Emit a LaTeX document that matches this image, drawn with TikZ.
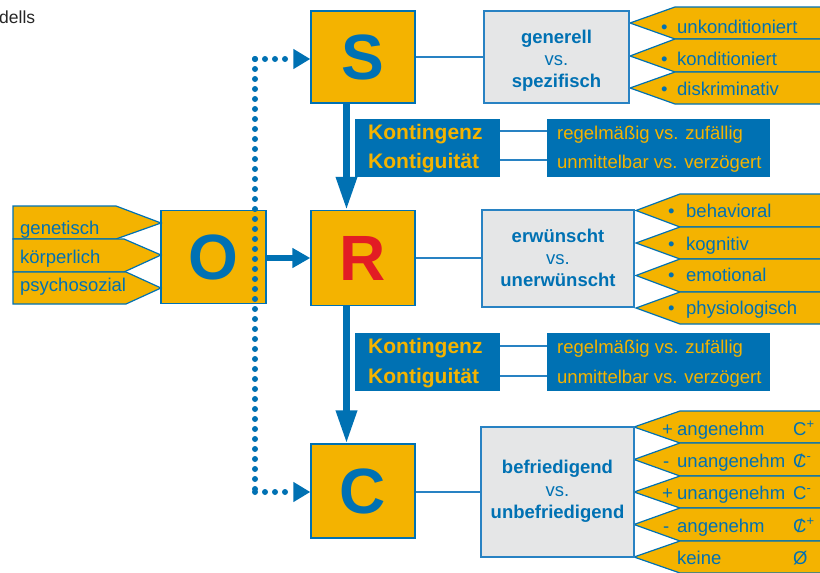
\documentclass[tikz,border=0pt]{standalone}
\usepackage{fontspec}
\setmainfont{Liberation Sans}
\usetikzlibrary{arrows.meta}
\definecolor{ybox}{RGB}{244,179,0}
\definecolor{bl}{RGB}{0,113,179}
\definecolor{lbl}{RGB}{40,130,195}
\definecolor{gr}{RGB}{229,230,231}
\definecolor{rd}{RGB}{226,28,36}
\newcommand\cslash{\ooalign{C\cr\hidewidth/\hidewidth}}
\newcommand\rtab[5]{\draw[tabshape] (#1,#2) -- (#3,#4) -- (830,#4) -- (830,#5) -- (#3,#5) -- cycle;}
\newcommand\ltab[5]{\draw[tabshape] (13,#1) -- (#4,#1) -- (#5,#3) -- (#4,#2) -- (13,#2) -- cycle;}
\begin{document}
\begin{tikzpicture}[x=1pt,y=-1pt,
  bigbox/.style={draw=bl, line width=1.3pt, fill=ybox, inner sep=0pt, text=bl,
    font=\fontsize{64}{64}\selectfont\bfseries},
  greybox/.style={draw=lbl, line width=1.3pt, fill=gr, inner sep=0pt},
  gtext/.style={anchor=base, inner sep=0pt, text=bl, font=\fontsize{18.5}{20}\selectfont},
  gbold/.style={gtext, font=\fontsize{18.5}{20}\selectfont\bfseries},
  kbox/.style={fill=bl, inner sep=0pt},
  tabshape/.style={draw=bl, line width=1.2pt, fill=ybox},
  tabtext/.style={anchor=base west, inner sep=0pt, text=bl, font=\fontsize{18.5}{20}\selectfont},
  ktext/.style={anchor=base west, inner sep=0pt, text=ybox, font=\fontsize{21}{24}\selectfont\bfseries},
  rtext/.style={anchor=base west, inner sep=0pt, text=ybox, font=\fontsize{18.5}{20}\selectfont},
  conn/.style={draw=lbl, line width=1.4pt},
  bigarrow/.style={draw=bl, line width=6.5pt, -{Triangle[length=33pt,width=20pt]}},
  midarrow/.style={draw=bl, line width=6.5pt, -{Triangle[length=18pt,width=19pt]}},
  dotline/.style={draw=bl, line width=6pt, line cap=round, dash pattern=on 0pt off 10pt},
  dotarrow/.style={dotline, -{Triangle[length=17pt,width=19pt]}}
]
\useasboundingbox (0,0) rectangle (820,573);
\clip (0,0) rectangle (820,573);

% title fragment
\node[anchor=base west, inner sep=0pt, text=black!85, font=\fontsize{17.5}{20}\selectfont] (title) at (-1,23) {dells};

% main boxes
\node[bigbox, minimum width=104pt, minimum height=92pt] (S) at (363,57) {S};
\node[bigbox, minimum width=104pt, minimum height=95pt, text=rd] (R) at (363,258) {R};
\node[bigbox, minimum width=104pt, minimum height=94pt] (C) at (363,491) {C};
\node[bigbox, minimum width=105pt, minimum height=93pt] (O) at (213.5,257) {O};

% O tabs
\ltab{206}{239}{223}{116}{161}
\ltab{239}{272}{255}{124}{161}
\ltab{272}{304}{288}{126}{161}
\node[tabtext] (o1) at (20,234) {genetisch};
\node[tabtext] (o2) at (20,263) {körperlich};
\node[tabtext] (o3) at (20,291) {psychosozial};

% S tabs and grey box
\rtab{630}{23}{675}{7}{39}
\rtab{630}{56}{675}{39}{72}
\rtab{630}{88}{675}{72}{104}
\node[greybox, minimum width=145pt, minimum height=92pt] (gS) at (556.5,57) {};
\node[gbold] (gS1) at (gS.center |- 0,43) {generell};
\node[gtext] (gS2) at (gS.center |- 0,65) {vs.};
\node[gbold] (gS3) at (gS.center |- 0,87) {spezifisch};
\node[tabtext] (sb1) at (661,33) {•};
\node[tabtext] (s1) at (677,33) {unkonditioniert};
\node[tabtext] (sb2) at (661,65) {•};
\node[tabtext] (s2) at (677,65) {konditioniert};
\node[tabtext] (sb3) at (661,95) {•};
\node[tabtext] (s3) at (677,95) {diskriminativ};

% R tabs and grey box
\rtab{636}{210.5}{680}{194}{227}
\rtab{636}{243}{680}{227}{259}
\rtab{636}{275.5}{680}{259}{292}
\rtab{636}{308}{680}{292}{324}
\node[greybox, minimum width=152pt, minimum height=97pt] (gR) at (558,258.5) {};
\node[gbold] (gR1) at (gR.center |- 0,242) {erwünscht};
\node[gtext] (gR2) at (gR.center |- 0,264) {vs.};
\node[gbold] (gR3) at (gR.center |- 0,286) {unerwünscht};
\node[tabtext] (rb1) at (668,217) {•};
\node[tabtext] (r1) at (686,217) {behavioral};
\node[tabtext] (rb2) at (668,250) {•};
\node[tabtext] (r2) at (686,250) {kognitiv};
\node[tabtext] (rb3) at (668,281) {•};
\node[tabtext] (r3) at (686,281) {emotional};
\node[tabtext] (rb4) at (668,314) {•};
\node[tabtext] (r4) at (686,314) {physiologisch};

% C tabs and grey box
\rtab{634}{427}{680}{411}{443}
\rtab{634}{459.5}{680}{443}{476}
\rtab{634}{492}{680}{476}{508}
\rtab{634}{524.5}{680}{508}{541}
\rtab{634}{557}{680}{541}{573}
\node[greybox, minimum width=153pt, minimum height=130pt] (gC) at (557.5,492) {};
\node[gbold] (gC1) at (gC.center |- 0,473) {befriedigend};
\node[gtext] (gC2) at (gC.center |- 0,496) {vs.};
\node[gbold] (gC3) at (gC.center |- 0,518) {unbefriedigend};
\node[tabtext] (cp1) at (662,435) {+};
\node[tabtext] (c1) at (677,435) {angenehm};
\node[tabtext] (cs1) at (793,435) {C\textsuperscript{+}};
\node[tabtext] (cp2) at (663,467) {-};
\node[tabtext] (c2) at (677,467) {unangenehm};
\node[tabtext] (cs2) at (793,467) {\cslash\textsuperscript{-}};
\node[tabtext] (cp3) at (662,499) {+};
\node[tabtext] (c3) at (677,499) {unangenehm};
\node[tabtext] (cs3) at (793,499) {C\textsuperscript{-}};
\node[tabtext] (cp4) at (663,532) {-};
\node[tabtext] (c4) at (677,532) {angenehm};
\node[tabtext] (cs4) at (793,532) {\cslash\textsuperscript{+}};
\node[tabtext] (c5) at (677,564) {keine};
\node[tabtext] (cs5) at (793,564) {Ø};

% Kontingenz groups
\node[kbox, minimum width=145pt, minimum height=58pt] (k1) at (427.5,148) {};
\node[kbox, minimum width=223pt, minimum height=58pt] (q1) at (658.5,148) {};
\node[ktext] (k1a) at (368,139) {Kontingenz};
\node[ktext] (k1b) at (368,168) {Kontiguität};
\node[rtext] (q1a) at (557,139) {regelmäßig vs. zufällig};
\node[rtext] (q1b) at (557,168) {unmittelbar vs. verzögert};
\node[kbox, minimum width=145pt, minimum height=58pt] (k2) at (427.5,362) {};
\node[kbox, minimum width=223pt, minimum height=58pt] (q2) at (658.5,362) {};
\node[ktext] (k2a) at (368,353) {Kontingenz};
\node[ktext] (k2b) at (368,383) {Kontiguität};
\node[rtext] (q2a) at (557,353) {regelmäßig vs. zufällig};
\node[rtext] (q2b) at (557,383) {unmittelbar vs. verzögert};

% connectors
\draw[conn] (S.east) -- (S.east -| gS.west);
\draw[conn] (R.east) -- (R.east -| gR.west);
\draw[conn] (gC.west -| C.east) -- (gC.west);
\draw[conn] ([yshift=17pt]k1.east) -- ([yshift=17pt]q1.west);
\draw[conn] ([yshift=-12pt]k1.east) -- ([yshift=-12pt]q1.west);
\draw[conn] ([yshift=16pt]k2.east) -- ([yshift=16pt]q2.west);
\draw[conn] ([yshift=-14pt]k2.east) -- ([yshift=-14pt]q2.west);

% thick arrows
\draw[bigarrow] ([xshift=-16.5pt]S.south) -- ([xshift=-16.5pt]R.north);
\draw[bigarrow] ([xshift=-16.5pt]R.south) -- ([xshift=-16.5pt]C.north);
\draw[midarrow] (O.east |- 0,258) -- (R.west |- 0,258);

% dotted O links
\coordinate (cS) at (255,59);
\coordinate (cC) at (255,492);
\coordinate (dS) at (S.west |- cS);
\coordinate (dC) at (C.west |- cC);
\draw[dotline] (cS) -- (cC);
\draw[dotarrow] (cS) -- (dS);
\draw[dotarrow] (cC) -- (dC);
\end{tikzpicture}
\end{document}
